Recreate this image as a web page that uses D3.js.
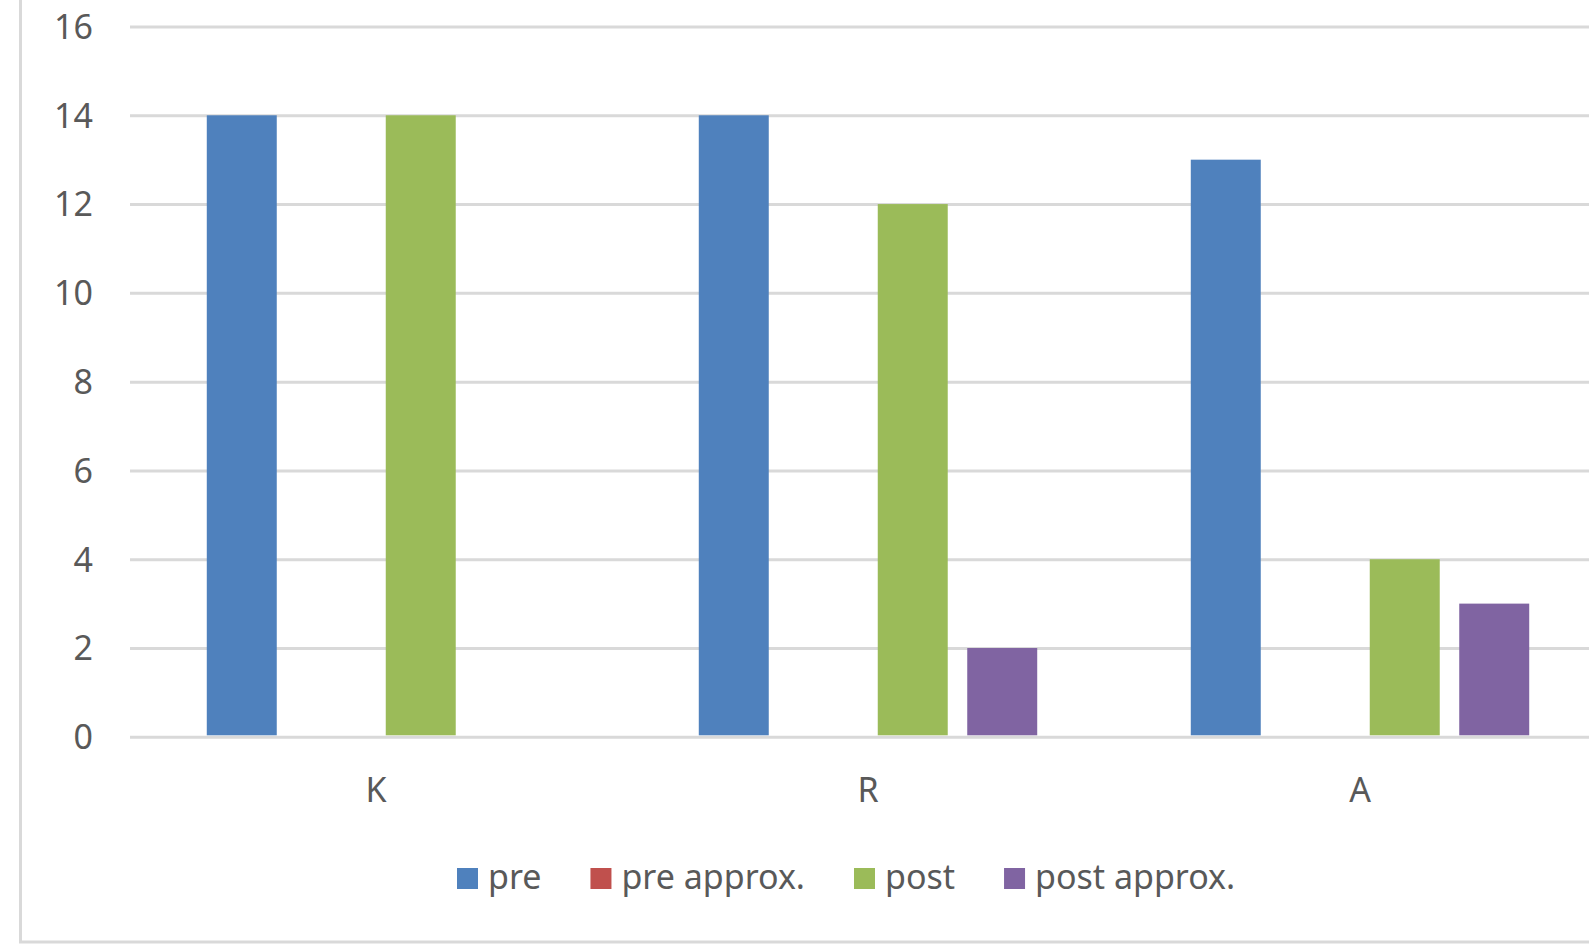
<!DOCTYPE html>
<html>
<head>
<meta charset="utf-8">
<script src="https://cdn.jsdelivr.net/npm/d3@7"></script>
<style>
  html, body { margin: 0; padding: 0; background: #fff; overflow: hidden; }
  svg { display: block; font-family: "Noto Sans", "Open Sans", sans-serif; }
</style>
</head>
<body>
<svg id="chart" width="1589" height="948"></svg>
<script>
// Chart data
const categories = ["K", "R", "A"];
const seriesNames = ["pre", "pre approx.", "post", "post approx."];
const seriesColors = ["#4F81BD", "#C0504D", "#9BBB59", "#8064A2"];
const preValues = [14, 14, 13];
const preApproxValues = [0, 0, 0];
const postValues = [14, 12, 4];
const postApproxValues = [0, 2, 3];
const yTicks = [0, 2, 4, 6, 8, 10, 12, 14, 16];

const seriesValues = [preValues, preApproxValues, postValues, postApproxValues];
const rows = categories.map((c, i) => ({
  category: c,
  values: seriesNames.map((s, j) => ({ series: s, value: seriesValues[j][i], color: seriesColors[j] }))
}));

const svg = d3.select("#chart");
const textColor = "#595959";
const gridColor = "#d9d9d9";
const fontSize = 34;

// Layout of the plot area (it runs past the right edge of the frame)
const plot = { left: 130, right: 1606, top: 26.5, bottom: 736.8 };

const y = d3.scaleLinear().domain([0, 16]).range([plot.bottom, plot.top]);
const x0 = d3.scaleBand().domain(categories).range([plot.left, plot.right]).padding(0);
const x1 = d3.scaleBand().domain(seriesNames).range([0, x0.bandwidth()])
  .paddingInner(0.218).paddingOuter(0.858);

// Chart frame (left and bottom edges)
svg.append("line").attr("x1", 20.5).attr("x2", 20.5).attr("y1", 0).attr("y2", 942)
  .attr("stroke", gridColor).attr("stroke-width", 3);
svg.append("line").attr("x1", 19).attr("x2", 1589).attr("y1", 942).attr("y2", 942)
  .attr("stroke", gridColor).attr("stroke-width", 3);

// Horizontal gridlines and value labels
const yAxis = d3.axisLeft(y).tickValues(yTicks).tickSize(-(plot.right - plot.left)).tickPadding(0);
const gAxis = svg.append("g").attr("transform", `translate(${plot.left},0)`).call(yAxis);
gAxis.select(".domain").remove();
gAxis.selectAll(".tick line").attr("stroke", gridColor).attr("stroke-width", 3);
gAxis.selectAll(".tick text")
  .attr("x", -37).attr("dy", "0.35em")
  .attr("fill", textColor).attr("font-size", fontSize).attr("font-family", "Noto Sans")
  .attr("text-anchor", "end");

// Bars
const groups = svg.append("g").selectAll("g").data(rows).join("g")
  .attr("transform", d => `translate(${x0(d.category)},0)`);
groups.selectAll("rect").data(d => d.values.filter(v => v.value > 0)).join("rect")
  .attr("x", d => x1(d.series))
  .attr("width", x1.bandwidth())
  .attr("y", d => y(d.value))
  .attr("height", d => y(0) - 1.5 - y(d.value))
  .attr("fill", d => d.color);

// Category labels
const xAxis = d3.axisBottom(x0).tickSize(0).tickPadding(0);
const gX = svg.append("g").attr("transform", `translate(0,${plot.bottom})`).call(xAxis);
gX.select(".domain").remove();
gX.selectAll(".tick text")
  .attr("y", 65).attr("dy", 0)
  .attr("fill", textColor).attr("font-size", fontSize).attr("font-family", "Noto Sans");

// Legend
const legend = svg.append("g").attr("transform", "translate(457,889)");
let lx = 0;
seriesNames.forEach((name, i) => {
  legend.append("rect").attr("x", lx).attr("y", -21).attr("width", 21).attr("height", 21)
    .attr("fill", seriesColors[i]);
  const t = legend.append("text").attr("x", lx + 31).attr("y", 0)
    .attr("fill", textColor).attr("font-size", fontSize).text(name);
  lx += 31 + t.node().getComputedTextLength() + 49;
});
</script>
</body>
</html>
